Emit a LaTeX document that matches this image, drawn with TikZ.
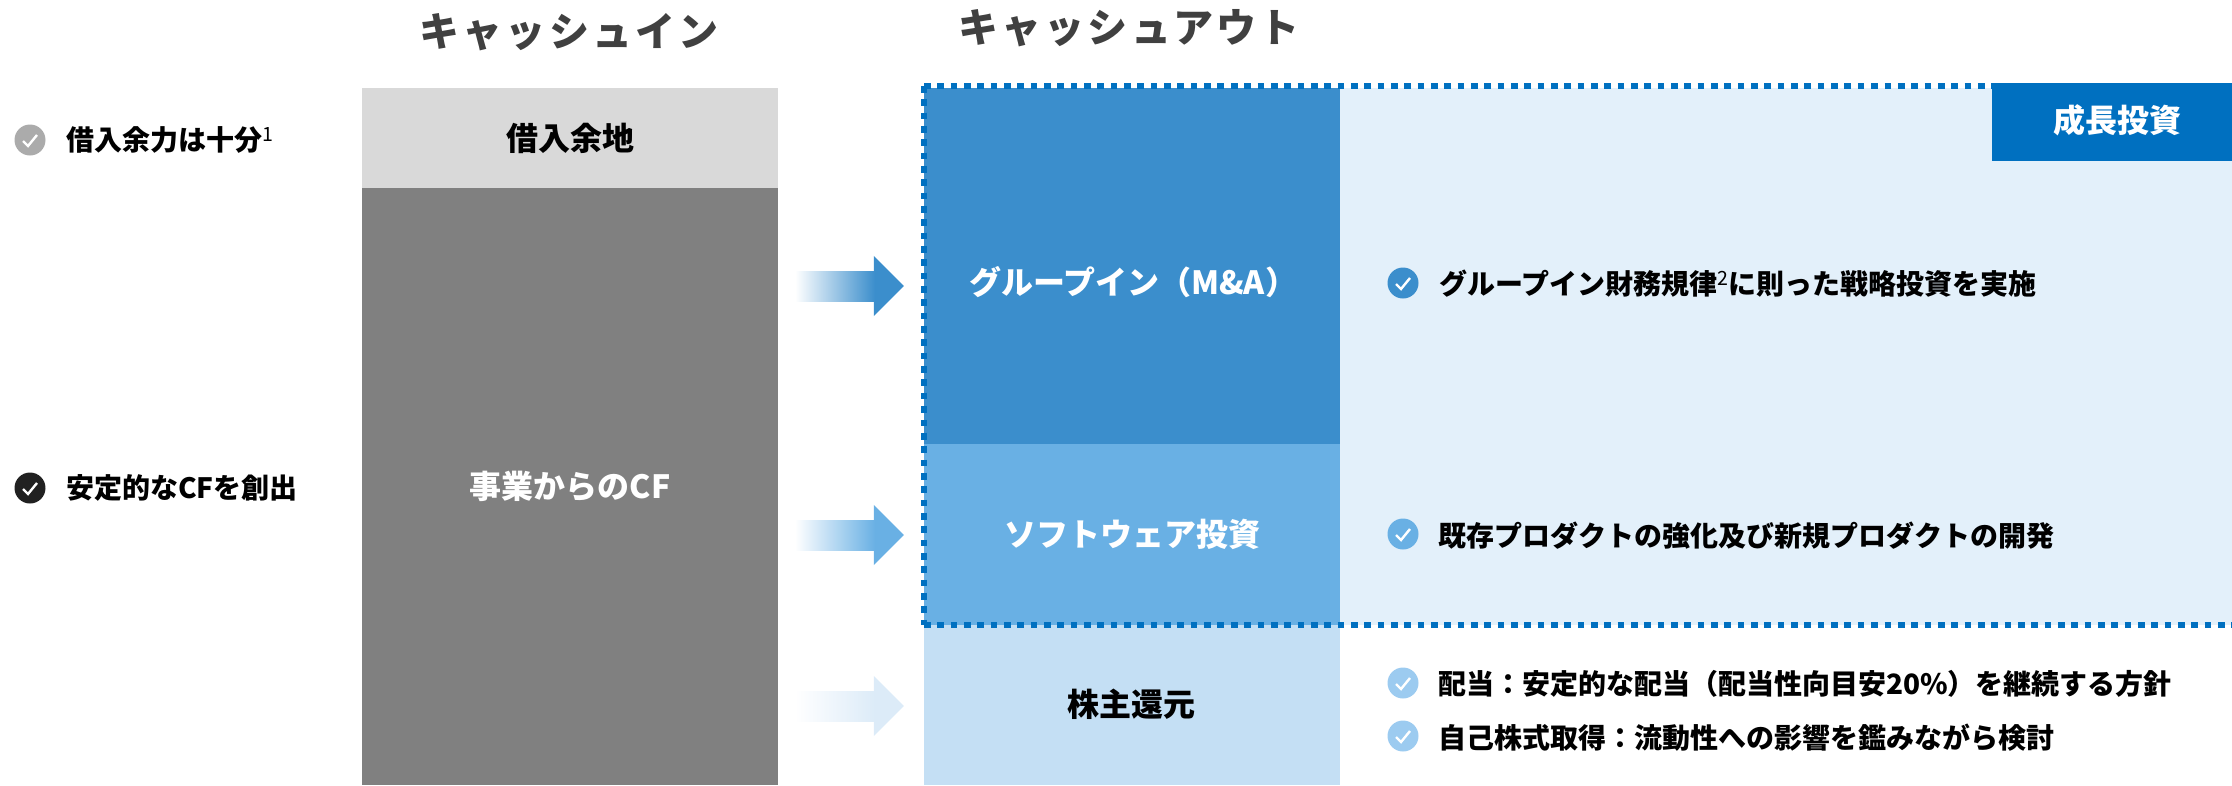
\documentclass[tikz,border=0pt]{standalone}
\usepackage{fontspec}
\setmainfont{Noto Sans CJK JP}
\usepackage{xcolor}
\usetikzlibrary{arrows.meta}
\definecolor{loangray}{HTML}{D9D9D9}
\definecolor{cfgray}{HTML}{808080}
\definecolor{titlegray}{HTML}{404040}
\definecolor{groupblue}{HTML}{3B8ECC}
\definecolor{softblue}{HTML}{69B0E4}
\definecolor{stockblue}{HTML}{C4DFF4}
\definecolor{stocktick}{HTML}{9CCBF0}
\definecolor{stockarrow}{HTML}{DCEBF8}
\definecolor{panelblue}{HTML}{E3F0FA}
\definecolor{frameblue}{HTML}{0070C0}
\tikzstyle{box}=[shape=rectangle, inner sep=0pt, font=\fontsize{32}{38}\selectfont\bfseries]
\tikzstyle{title}=[inner sep=0pt, text=titlegray, font=\fontsize{40}{46}\selectfont\bfseries\addfontfeature{LetterSpace=8}]
\tikzstyle{note}=[anchor=west, inner sep=0pt, font=\fontsize{28}{34}\selectfont\bfseries]
\tikzstyle{tick}=[shape=circle, inner sep=0pt, minimum size=31pt, path picture={
    \draw [white, line width=2.4pt] (path picture bounding box.center) ++(-7,1) -- ++(5,5) -- ++(9,-11);}]
\tikzstyle{flow edge}=[line width=1pt, shorten >=20pt, -{Triangle[length=30pt,width=60pt]}]
\tikzstyle{frame edge}=[draw=frameblue, line width=6pt, dash pattern=on 6.67pt off 6.67pt]
\pgfdeclarelayer{nodelayer}
\pgfdeclarelayer{edgelayer}
\pgfsetlayers{nodelayer,edgelayer,main}
\begin{document}
\begin{tikzpicture}[x=1pt, y=-1pt]
    	\useasboundingbox (0, 0) rectangle (2232, 785);
    	\begin{pgfonlayer}{nodelayer}
    		\node [style=title] (intitle) at (569, 32) {キャッシュイン};
    		\node [style=title] (outtitle) at (1129, 28) {キャッシュアウト};
    		% left column
    		\node [style=box, fill=loangray, minimum width=416pt, minimum height=100pt] (loan) at (570, 138) {借入余地};
    		\node [style=box, fill=cfgray, text=white, minimum width=416pt, minimum height=597pt] (cf) at (570, 486.5) {事業からのCF};
    		\node [style=tick, fill=black!33] (t1) at (30, 140) {};
    		\node [style=note] (n1) at (66, 140) {借入余力は十分{\mdseries\textsuperscript{1}}};
    		\node [style=tick, fill=black!87] (t2) at (30, 488) {};
    		\node [style=note] (n2) at (66, 488) {安定的なCFを創出};
    		% right column
    		\node [style=box, fill=panelblue, minimum width=892pt, minimum height=537pt] (panel) at (1786, 356.5) {};
    		\node [style=box, fill=groupblue, minimum width=416pt, minimum height=356pt] (group) at (1132, 266) {};
    		\node [style=box, text=white] (grouptext) at (1133, 282) {グループイン（M\&A）};
    		\node [style=box, fill=softblue, text=white, minimum width=416pt, minimum height=181pt] (soft) at (1132, 534.5) {ソフトウェア投資};
    		\node [style=box, fill=stockblue, minimum width=416pt, minimum height=160pt] (stock) at (1132, 705) {};
    		\node [style=box] (stocktext) at (1131, 704) {株主還元};
    		\node [style=tick, fill=groupblue] (t3) at (1403, 283) {};
    		\node [style=note] (n3) at (1439, 284) {グループイン財務規律{\mdseries\textsuperscript{2}}に則った戦略投資を実施};
    		\node [style=tick, fill=softblue] (t4) at (1403, 534) {};
    		\node [style=note] (n4) at (1438, 536) {既存プロダクトの強化及び新規プロダクトの開発};
    		\node [style=tick, fill=stocktick] (t5) at (1403, 683) {};
    		\node [style=note] (n5) at (1438, 684) {配当：安定的な配当（配当性向目安20\%）を継続する方針};
    		\node [style=tick, fill=stocktick] (t6) at (1403, 736) {};
    		\node [style=note] (n6) at (1438, 738) {自己株式取得：流動性への影響を鑑みながら検討};
    		% arrows start here
    		\coordinate (in1) at (795, 286);
    		\coordinate (in2) at (795, 535);
    		\coordinate (in3) at (795, 706);
    	\end{pgfonlayer}
    	\begin{pgfonlayer}{edgelayer}
    		\draw [style=flow edge, draw=groupblue, fill=groupblue] (in1) to (in1 -| group.west);
    		\draw [style=flow edge, draw=softblue, fill=softblue] (in2) to (in2 -| soft.west);
    		\draw [style=flow edge, draw=stockarrow, fill=stockarrow] (in3) to (in3 -| stock.west);
    		\shade [left color=white, right color=groupblue] (795, 271) rectangle (875, 301);
    		\shade [left color=white, right color=softblue] (795, 520) rectangle (875, 550);
    		\shade [left color=white, right color=stockarrow] (795, 691) rectangle (875, 721);
    		\draw [style=frame edge] (924, 86) -- (2240, 86);
    		\draw [style=frame edge] (924, 86) -- (924, 625);
    		\draw [style=frame edge] (924, 625) -- (2240, 625);
    	\end{pgfonlayer}
    	\node [style=box, fill=frameblue, text=white, minimum width=240pt, minimum height=78pt] (badge) at (2112, 122) {};
    	\node [style=box, text=white] (badgetext) at (2117, 120) {成長投資};
\end{tikzpicture}
\end{document}
